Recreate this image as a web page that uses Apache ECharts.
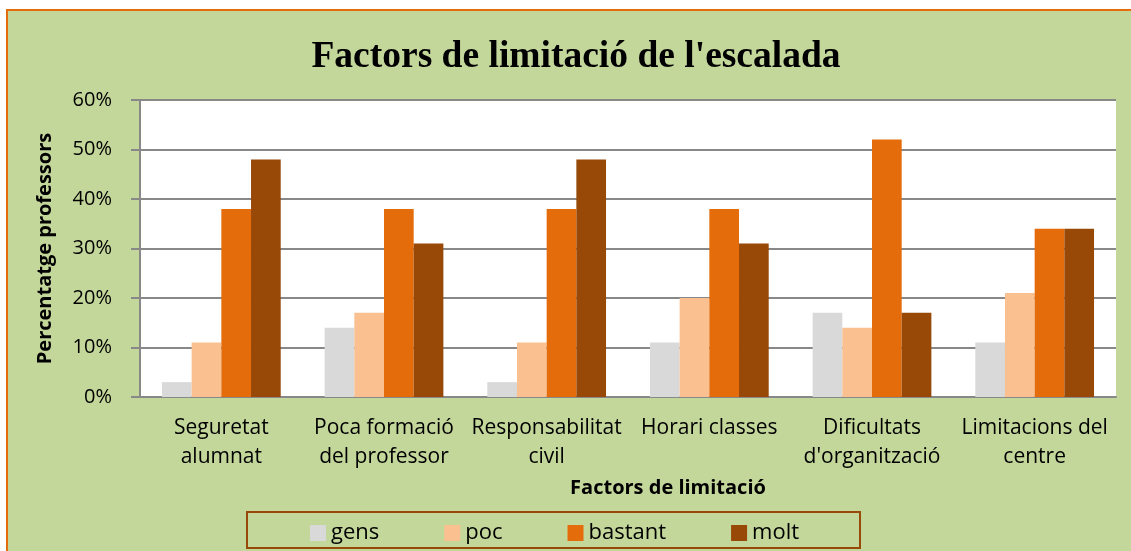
<!DOCTYPE html>
<html>
<head>
<meta charset="utf-8">
<script src="https://cdn.jsdelivr.net/npm/echarts@6/dist/echarts.min.js"></script>
<style>
  html, body { margin: 0; padding: 0; background: #fff; }
  #main { width: 1131px; height: 551px; }
</style>
</head>
<body>
<div id="main"></div>
<script>
var categories = ['Seguretat\nalumnat', 'Poca formació\ndel professor', 'Responsabilitat\ncivil',
    'Horari classes', 'Dificultats\nd\'organització', 'Limitacions del\ncentre'];
var gens = [3, 14, 3, 11, 17, 11];
var poc = [11, 17, 11, 20, 14, 21];
var bastant = [38, 38, 38, 38, 52, 34];
var molt = [48, 31, 48, 31, 17, 34];
var colors = ['#d9d9d9', '#fac090', '#e46c0a', '#984807'];

var font = 'Open Sans';
var grey = '#888888';
var myChart = echarts.init(document.getElementById('main'));

function bar(name, data, i) {
    return {
        name: name,
        type: 'bar',
        data: data,
        barGap: '0%',
        barCategoryGap: '27%',
        itemStyle: { color: colors[i] },
        z: 5
    };
}

myChart.setOption({
    backgroundColor: '#fff',
    animation: false,
    color: colors,
    title: [{
        text: "Factors de limitació de l'escalada",
        left: 571,
        textAlign: 'center',
        top: 33,
        textStyle: {
            fontFamily: 'Liberation Serif',
            fontWeight: 'bold',
            fontSize: 37.5,
            color: '#000'
        }
    }, {
        // x axis name, sits off-centre in the original
        text: 'Factors de limitació',
        left: 663,
        textAlign: 'center',
        top: 473,
        textStyle: { fontFamily: font, fontWeight: 'bold', fontSize: 20, color: '#000' }
    }],
    graphic: [{
        type: 'rect',
        z: -10,
        shape: { x: 7, y: 10, width: 1300, height: 700 },
        style: { fill: '#c4d79b', stroke: '#e46c0a', lineWidth: 2 }
    }, {
        type: 'rect',
        z: 10,
        shape: { x: 247, y: 512, width: 613, height: 36 },
        style: { fill: 'none', stroke: '#984807', lineWidth: 2 }
    }],
    legend: {
        left: 305,
        top: 517,
        itemWidth: 16,
        itemHeight: 16,
        itemGap: 65,
        icon: 'rect',
        textStyle: { fontFamily: font, fontSize: 22, color: '#000' },
        data: ['gens', 'poc', 'bastant', 'molt']
    },
    grid: {
        left: 140,
        top: 100,
        right: 15,
        bottom: 154,
        show: true,
        backgroundColor: '#fff',
        borderWidth: 0
    },
    xAxis: {
        type: 'category',
        data: categories,
        axisLine: { lineStyle: { color: grey, width: 2 } },
        axisTick: { length: 7, lineStyle: { color: grey, width: 2 } },
        axisLabel: {
            fontFamily: font,
            fontSize: 21,
            color: '#000',
            lineHeight: 29,
            margin: 17,
            interval: 0
        }
    },
    yAxis: {
        type: 'value',
        min: 0,
        max: 60,
        interval: 10,
        name: 'Percentatge professors',
        nameLocation: 'middle',
        nameRotate: 90,
        nameGap: 85,
        nameTextStyle: { fontFamily: font, fontWeight: 'bold', fontSize: 20, color: '#000' },
        axisLine: { show: true, lineStyle: { color: grey, width: 2 } },
        axisTick: { show: true, length: 9, lineStyle: { color: grey, width: 2 } },
        splitLine: { lineStyle: { color: grey, width: 2 } },
        axisLabel: {
            formatter: '{value}%',
            fontFamily: font,
            fontSize: 20,
            color: '#000',
            margin: 28
        }
    },
    series: [
        bar('gens', gens, 0),
        bar('poc', poc, 1),
        bar('bastant', bastant, 2),
        bar('molt', molt, 3)
    ]
});
</script>
</body>
</html>
